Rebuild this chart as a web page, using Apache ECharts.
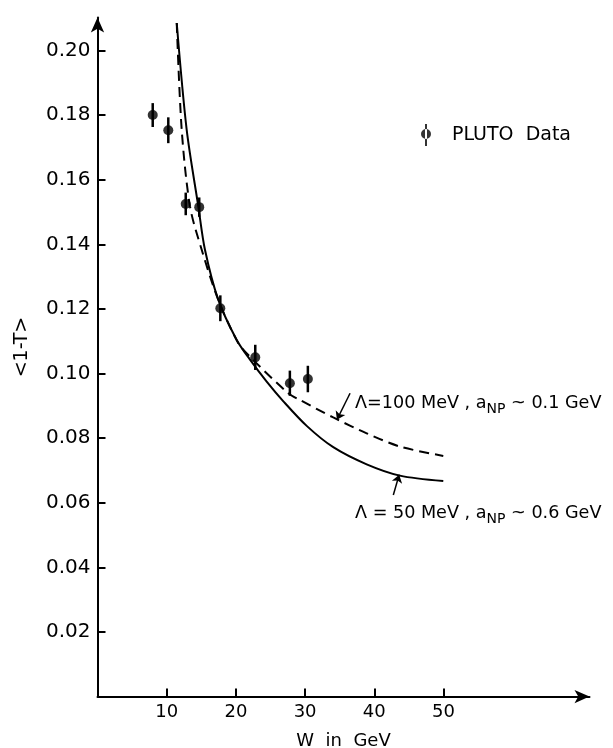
<!DOCTYPE html>
<html>
<head>
<meta charset="utf-8">
<style>
html, body { margin: 0; padding: 0; background: #fff; }
#chart { width: 613px; height: 748px; }
</style>
<script src="https://cdn.jsdelivr.net/npm/echarts@6/dist/echarts.min.js"></script>
</head>
<body>
<div id="chart"></div>
<script>
// PLUTO data points: W (GeV), <1-T>, error
var W = [7.98, 10.23, 12.75, 14.7, 17.75, 22.8, 27.8, 30.4];
var T = [0.1800, 0.1753, 0.1525, 0.1515, 0.1202, 0.1050, 0.0970, 0.0983];
var dT = [0.0037, 0.0040, 0.0035, 0.0030, 0.0040, 0.0039, 0.0039, 0.0041];

// Lambda = 50 MeV curve (solid)
var solidW = [11.45, 12.89, 14.57, 15.53, 17.46, 20.12, 22.04, 24.45, 26.86, 30.23, 34.07, 38.9, 43.7, 49.97];
var solidT = [0.2085, 0.1754, 0.1517, 0.1383, 0.1228, 0.1104, 0.1043, 0.0975, 0.0914, 0.0838, 0.0772, 0.0719, 0.0684, 0.0667];

// Lambda = 100 MeV curve (dashed)
var dashW = [11.45, 12.17, 13.37, 15.06, 17.46, 20.35, 22.04, 27.57, 29.26, 34.07, 38.9, 43.7, 49.97];
var dashT = [0.2085, 0.1754, 0.1517, 0.1383, 0.1228, 0.1094, 0.1052, 0.0939, 0.0918, 0.0864, 0.0815, 0.0774, 0.0745];

var xTicks = [10, 20, 30, 40, 50];
var yTicks = [0.02, 0.04, 0.06, 0.08, 0.10, 0.12, 0.14, 0.16, 0.18, 0.20];

function pairs(xs, ys) {
    return xs.map(function (x, i) { return [x, ys[i]]; });
}

var font = 'DejaVu Sans';
var chart = echarts.init(document.getElementById('chart'));
var option = {
    animation: false,
    backgroundColor: '#fff',
    textStyle: { fontFamily: font, color: '#000' },
    grid: { left: 97.5, right: 23.5, top: 17.5, bottom: 51.4, outerBoundsMode: 'none', containLabel: false },
    legend: {
        data: ['PLUTO  Data'],
        left: 416,
        top: 119,
        icon: 'path://M4,0 L6,0 L6,22 L4,22 Z M0,10 A5,5 0 1,0 10,10 A5,5 0 1,0 0,10 Z',
        itemWidth: 10,
        itemHeight: 22,
        textStyle: { fontFamily: font, fontSize: 19, color: '#000', padding: [0, 0, 0, 16] }
    },
    xAxis: {
        type: 'value',
        min: 0,
        max: 71.1,
        name: 'W  in  GeV',
        nameLocation: 'middle',
        nameGap: 36,
        nameTextStyle: { fontFamily: font, fontSize: 18, color: '#000' },
        axisLine: { lineStyle: { color: '#000', width: 2 }, symbol: ['none', 'arrow'], symbolSize: [10, 15] },
        axisTick: { inside: true, length: 8, lineStyle: { color: '#000', width: 2 }, customValues: xTicks },
        axisLabel: { fontFamily: font, fontSize: 18, color: '#000', margin: 7, customValues: xTicks },
        splitLine: { show: false }
    },
    yAxis: {
        type: 'value',
        min: 0,
        max: 0.2102,
        name: '<1-T>',
        nameLocation: 'middle',
        nameGap: 66,
        nameRotate: 90,
        nameTextStyle: { fontFamily: font, fontSize: 19, color: '#000', padding: [0, 0, 0, 20] },
        axisLine: { lineStyle: { color: '#000', width: 2 }, symbol: ['none', 'arrow'], symbolSize: [10, 15] },
        axisTick: { inside: true, length: 8, lineStyle: { color: '#000', width: 2 }, customValues: yTicks },
        axisLabel: {
            fontFamily: font, fontSize: 20, color: '#000', margin: 7, customValues: yTicks,
            formatter: function (v) { return v.toFixed(2); }
        },
        splitLine: { show: false }
    },
    graphic: [{
        type: 'text',
        left: 355,
        top: 394,
        style: {
            text: '{m|\u039B=100 MeV , a}{s|NP}{m| ~ 0.1 GeV}',
            rich: {
                m: { fontFamily: font, fontSize: 17.6, fill: '#000' },
                s: { fontFamily: font, fontSize: 14, fill: '#000', padding: [12, 0, 0, 0] }
            }
        }
    }, {
        type: 'text',
        left: 355,
        top: 504,
        style: {
            text: '{m|\u039B = 50 MeV , a}{s|NP}{m| ~ 0.6 GeV}',
            rich: {
                m: { fontFamily: font, fontSize: 17.6, fill: '#000' },
                s: { fontFamily: font, fontSize: 14, fill: '#000', padding: [12, 0, 0, 0] }
            }
        }
    }],
    series: [{
        name: 'Lambda 50 MeV',
        type: 'line',
        data: pairs(solidW, solidT),
        showSymbol: false,
        smooth: 0.3,
        lineStyle: { color: '#000', width: 2 },
        markLine: {
            silent: true,
            symbol: ['none', 'arrow'],
            symbolSize: 8,
            label: { show: false },
            lineStyle: { color: '#000', width: 1.5, type: 'solid' },
            data: [[{ coord: [42.75, 0.0624] }, { coord: [43.6, 0.0687] }]]
        }
    }, {
        name: 'Lambda 100 MeV',
        type: 'line',
        data: pairs(dashW, dashT),
        showSymbol: false,
        smooth: 0.3,
        lineStyle: { color: '#000', width: 2, type: [10, 6] },
        markLine: {
            silent: true,
            symbol: ['none', 'arrow'],
            symbolSize: 8,
            label: { show: false },
            lineStyle: { color: '#000', width: 1.5, type: 'solid' },
            data: [[{ coord: [36.5, 0.0939] }, { coord: [34.6, 0.0857] }]]
        }
    }, {
        name: 'errors',
        type: 'custom',
        data: W.map(function (w, i) { return [w, T[i] - dT[i], T[i] + dT[i]]; }),
        encode: { x: 0, y: [1, 2] },
        renderItem: function (params, api) {
            var lo = api.coord([api.value(0), api.value(1)]);
            var hi = api.coord([api.value(0), api.value(2)]);
            return {
                type: 'line',
                shape: { x1: lo[0], y1: lo[1], x2: hi[0], y2: hi[1] },
                style: { stroke: '#000', lineWidth: 2.5 }
            };
        },
        z: 3
    }, {
        name: 'PLUTO  Data',
        type: 'scatter',
        data: pairs(W, T),
        symbol: 'circle',
        symbolSize: 10,
        itemStyle: { color: '#000' },
        z: 4
    }]
};
chart.setOption(option);
</script>
</body>
</html>
